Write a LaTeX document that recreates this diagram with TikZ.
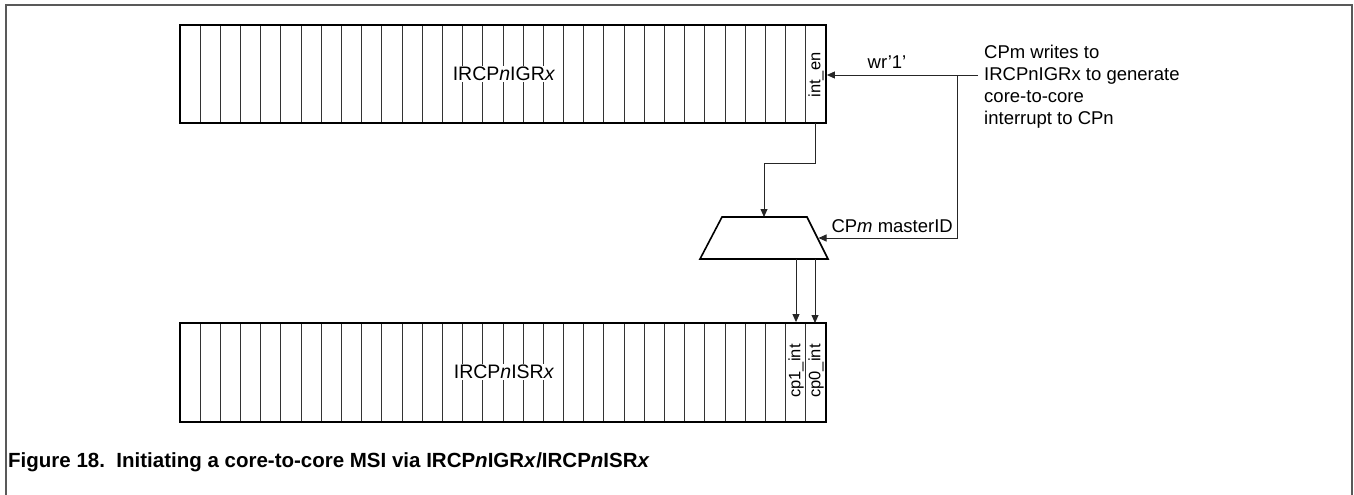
\documentclass[tikz,border=0pt]{standalone}
\usepackage{fontspec}
\setmainfont{Liberation Sans}
\usetikzlibrary{arrows.meta,calc}
\begin{document}
\begin{tikzpicture}[x=1pt,y=-1pt,
  reg/.style={draw=black,line width=1.8pt,minimum width=646pt,minimum height=98pt,inner sep=0pt},
  cellline/.style={draw=black!80,line width=0.9pt},
  conn/.style={draw=black!85,line width=0.9pt},
  arr/.style={conn,-{Triangle[length=8pt,width=7pt]}},
  bitlbl/.style={rotate=90,inner sep=0pt,font=\fontsize{16.5}{17}\selectfont},
  reglbl/.style={fill=white,inner sep=1pt,font=\fontsize{19.5}{21}\selectfont},
  txt/.style={inner sep=0pt,font=\fontsize{18.5}{22}\selectfont}]
\useasboundingbox (0,0) rectangle (1354,495);
% frame
\draw[draw=black!65,line width=2pt] (6,496) -- (6,5) -- (1352,5) -- (1352,496);
% top register IRCPnIGRx
\foreach \i in {1,...,31} { \draw[cellline] ({180+\i*20.1875},25) -- ({180+\i*20.1875},123); }
\node[reg] (igr) at (503,74) {};
\node[reglbl] (igrlbl) at (504,74) {IRCP\textit{n}IGR\textit{x}};
\node[bitlbl] (inten) at (816,75) {int\_en};
% bottom register IRCPnISRx
\foreach \i in {1,...,31} { \draw[cellline] ({180+\i*20.1875},323) -- ({180+\i*20.1875},422); }
\node[reg,minimum height=99pt] (isr) at (503,372.5) {};
\node[reglbl] (isrlbl) at (504,372) {IRCP\textit{n}ISR\textit{x}};
\node[bitlbl] (cpone) at (796,371) {cp1\_int};
\node[bitlbl] (cpzero) at (816,371) {cp0\_int};
% mux (trapezoid)
\coordinate (mtl) at (722,217);
\coordinate (mtr) at (807,217);
\coordinate (mbr) at (828,259);
\coordinate (mbl) at (700,259);
\draw[draw=black,line width=1.6pt,line join=miter] (mtl) -- (mtr) -- (mbr) -- (mbl) -- cycle;
\coordinate (mux-n) at (764,217);
\coordinate (mux-e) at (818.5,238);
% annotation
\node[txt,anchor=north west,align=left] (ann) at (984,45)
  {CPm writes to\\IRCPnIGRx to generate\\core-to-core\\interrupt to CPn};
\coordinate (src) at (978,75);
\coordinate (jn) at (957.5,75);
\node[txt] (wr) at (887,62) {wr’1’};
\node[txt,anchor=east] (mid) at (953,226) {CP\textit{m} masterID};
% connectors
\draw[arr] (src) -- (igr.east |- src);
\draw[arr] (jn) |- (mux-e);
\draw[arr] (815,123) |- (764,163) -- (mux-n);
\draw[arr] (796,259) -- (cpone.center |- isr.north);
\draw[arr] (815,259) -- (815,323);
% caption
\node[anchor=west,inner sep=0pt,font=\bfseries\fontsize{20.5}{24}\selectfont] (cap) at (8,462)
  {Figure 18.\ \ Initiating a core-to-core MSI via IRCP\textit{n}IGR\textit{x}/IRCP\textit{n}ISR\textit{x}};
\end{tikzpicture}
\end{document}
